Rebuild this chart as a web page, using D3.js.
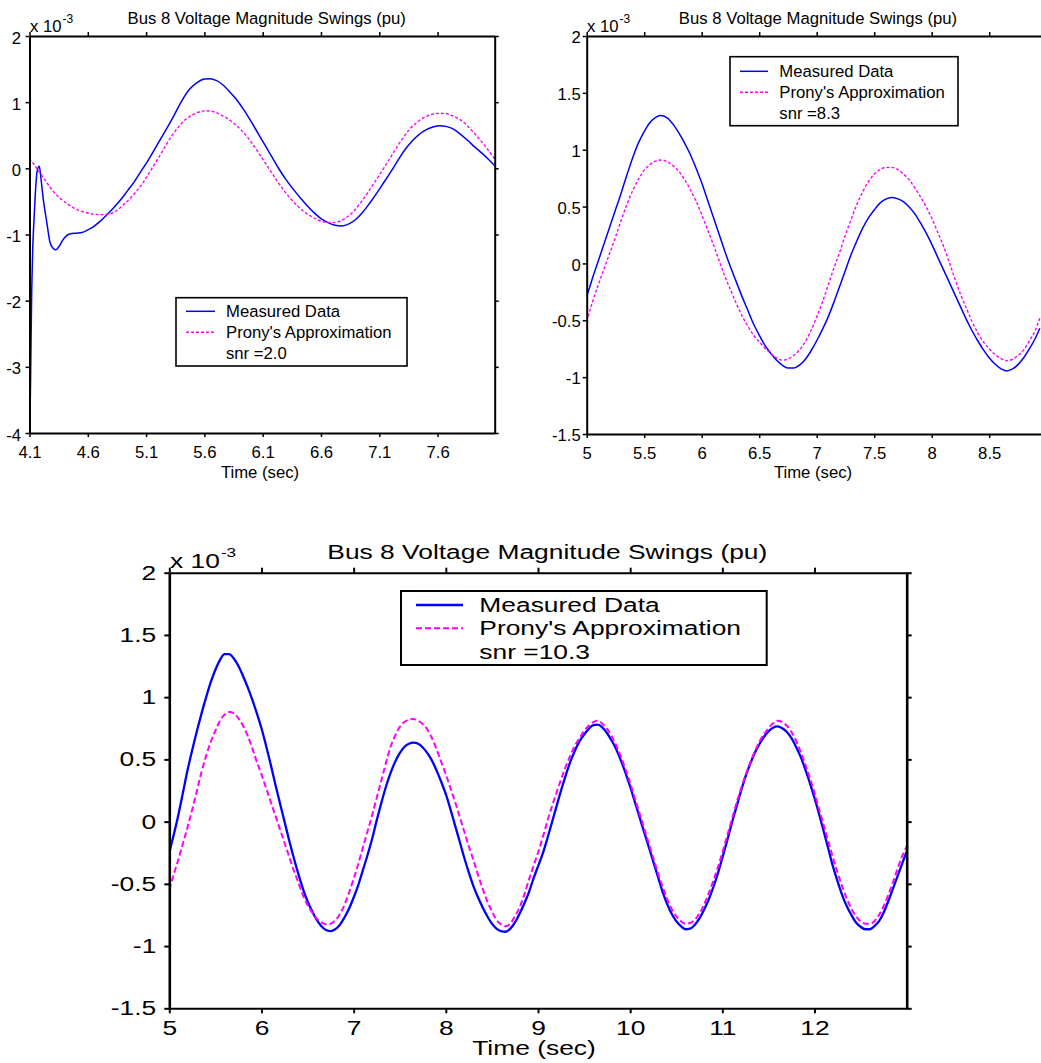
<!DOCTYPE html>
<html>
<head>
<meta charset="utf-8">
<script src="https://cdn.jsdelivr.net/npm/d3@7"></script>
<style>
  body { margin: 0; background: #fff; }
  svg { display: block; font-family: "Liberation Sans", Arial, Helvetica, sans-serif; }
</style>
</head>
<body>
<div id="chart"></div>
<script>
/* Bus 8 voltage swings: measured data vs Prony fit, three panels */

// ---- data (values in units of 1e-3 pu) ----
const tlMeasured = [
  [4.100,-4.0],[4.105,-3.7],[4.110,-3.1],[4.119,-1.85],[4.127,-1.25],[4.135,-0.90],[4.150,-0.38],
  [4.165,-0.05],[4.184,0.03],[4.200,-0.18],[4.219,-0.48],[4.247,-0.80],[4.276,-1.12],[4.304,-1.21],
  [4.325,-1.23],[4.350,-1.19],[4.380,-1.10],[4.410,-1.03],[4.450,-0.99],[4.500,-0.98],[4.550,-0.97],
  [4.600,-0.93],[4.650,-0.88],[4.700,-0.81],[4.760,-0.71],[4.820,-0.60],[4.880,-0.48],[4.940,-0.34],
  [5.000,-0.20],[5.050,-0.06],[5.100,0.07],[5.160,0.25],[5.220,0.43],[5.280,0.61],[5.340,0.80],
  [5.400,1.00],[5.470,1.19],[5.540,1.30],[5.600,1.35],[5.650,1.355],[5.700,1.33],[5.760,1.26],
  [5.820,1.15],[5.880,1.03],[5.940,0.88],[6.000,0.71],[6.060,0.53],[6.120,0.35],[6.180,0.17],
  [6.240,-0.01],[6.300,-0.17],[6.360,-0.31],[6.420,-0.44],[6.480,-0.56],[6.540,-0.67],[6.600,-0.76],
  [6.660,-0.82],[6.720,-0.86],[6.780,-0.87],[6.840,-0.84],[6.900,-0.77],[6.960,-0.66],[7.020,-0.52],
  [7.080,-0.37],[7.140,-0.21],[7.200,-0.05],[7.260,0.12],[7.320,0.28],[7.380,0.41],[7.440,0.51],
  [7.500,0.58],[7.560,0.625],[7.620,0.645],[7.680,0.63],[7.740,0.59],[7.800,0.51],[7.860,0.42],
  [7.920,0.32],[7.980,0.23],[8.040,0.13],[8.090,0.04]
];
const tlProny = [
  [4.10,0.15],[4.15,0.03],[4.19,-0.07],[4.25,-0.22],[4.30,-0.34],[4.36,-0.45],[4.42,-0.53],[4.48,-0.60],
  [4.54,-0.645],[4.60,-0.675],[4.66,-0.695],[4.72,-0.70],[4.78,-0.69],[4.84,-0.65],[4.90,-0.56],
  [4.96,-0.46],[5.02,-0.34],[5.08,-0.20],[5.14,-0.03],[5.20,0.14],[5.26,0.32],[5.32,0.49],[5.38,0.63],
  [5.44,0.74],[5.50,0.81],[5.56,0.855],[5.62,0.87],[5.68,0.855],[5.74,0.81],[5.80,0.75],[5.86,0.67],
  [5.92,0.57],[5.98,0.45],[6.04,0.30],[6.10,0.14],[6.16,-0.02],[6.22,-0.18],[6.28,-0.33],[6.34,-0.46],
  [6.40,-0.57],[6.46,-0.66],[6.52,-0.73],[6.58,-0.785],[6.64,-0.815],[6.70,-0.82],[6.76,-0.80],
  [6.82,-0.74],[6.88,-0.65],[6.94,-0.52],[7.00,-0.37],[7.06,-0.21],[7.12,-0.05],[7.18,0.12],[7.24,0.29],
  [7.30,0.45],[7.36,0.59],[7.42,0.69],[7.48,0.765],[7.54,0.81],[7.60,0.83],[7.66,0.83],[7.72,0.80],
  [7.78,0.75],[7.84,0.67],[7.90,0.56],[7.96,0.44],[8.02,0.31],[8.09,0.14]
];
const trMeasured = [
  [5.00,-0.29],[5.05,-0.13],[5.10,0.02],[5.15,0.17],[5.20,0.32],[5.25,0.47],[5.30,0.62],[5.35,0.78],
  [5.40,0.93],[5.45,1.06],[5.50,1.16],[5.55,1.24],[5.60,1.285],[5.64,1.30],[5.70,1.28],[5.75,1.225],
  [5.80,1.15],[5.85,1.06],[5.90,0.96],[5.95,0.84],[6.00,0.71],[6.05,0.56],[6.10,0.41],[6.15,0.26],
  [6.20,0.11],[6.25,-0.03],[6.30,-0.16],[6.35,-0.29],[6.40,-0.41],[6.45,-0.53],[6.50,-0.63],[6.55,-0.72],
  [6.60,-0.79],[6.65,-0.85],[6.70,-0.895],[6.75,-0.92],[6.80,-0.92],[6.85,-0.895],[6.90,-0.845],[6.95,-0.77],
  [7.00,-0.68],[7.05,-0.58],[7.10,-0.47],[7.15,-0.34],[7.20,-0.20],[7.25,-0.06],[7.30,0.08],[7.35,0.20],
  [7.40,0.31],[7.45,0.40],[7.50,0.47],[7.55,0.53],[7.60,0.565],[7.65,0.58],[7.70,0.57],[7.75,0.545],
  [7.80,0.50],[7.85,0.44],[7.90,0.36],[7.95,0.27],[8.00,0.17],[8.05,0.06],[8.10,-0.05],[8.15,-0.16],
  [8.20,-0.27],[8.25,-0.38],[8.30,-0.49],[8.35,-0.59],[8.40,-0.68],[8.45,-0.76],[8.50,-0.83],[8.55,-0.885],
  [8.60,-0.925],[8.65,-0.945],[8.70,-0.93],[8.75,-0.89],[8.80,-0.83],[8.85,-0.75],[8.90,-0.66],[8.94,-0.57]
];
const trProny = [
  [5.00,-0.51],[5.05,-0.34],[5.10,-0.19],[5.15,-0.05],[5.20,0.09],[5.25,0.23],[5.30,0.38],[5.35,0.52],
  [5.40,0.64],[5.45,0.74],[5.50,0.82],[5.55,0.87],[5.60,0.90],[5.65,0.91],[5.70,0.895],[5.75,0.86],
  [5.80,0.81],[5.85,0.74],[5.90,0.65],[5.95,0.55],[6.00,0.43],[6.05,0.30],[6.10,0.17],[6.15,0.03],
  [6.20,-0.11],[6.25,-0.23],[6.30,-0.35],[6.35,-0.46],[6.40,-0.55],[6.45,-0.63],[6.50,-0.69],[6.55,-0.745],
  [6.60,-0.79],[6.65,-0.83],[6.70,-0.85],[6.75,-0.84],[6.80,-0.81],[6.85,-0.76],[6.90,-0.69],[6.95,-0.59],
  [7.00,-0.47],[7.05,-0.34],[7.10,-0.19],[7.15,-0.04],[7.20,0.10],[7.25,0.25],[7.30,0.39],[7.35,0.52],
  [7.40,0.63],[7.45,0.72],[7.50,0.785],[7.55,0.825],[7.60,0.845],[7.65,0.845],[7.70,0.83],[7.75,0.79],
  [7.80,0.74],[7.85,0.67],[7.90,0.59],[7.95,0.50],[8.00,0.40],[8.05,0.28],[8.10,0.16],[8.15,0.02],
  [8.20,-0.13],[8.25,-0.27],[8.30,-0.39],[8.35,-0.51],[8.40,-0.61],[8.45,-0.69],[8.50,-0.75],[8.55,-0.80],
  [8.60,-0.835],[8.65,-0.855],[8.70,-0.845],[8.75,-0.81],[8.80,-0.76],[8.85,-0.68],[8.90,-0.59],[8.94,-0.48]
];
const bMeasured = [
  [5.00,-0.25],[5.05,-0.10],[5.10,0.06],[5.15,0.24],[5.20,0.42],[5.25,0.58],[5.30,0.73],[5.35,0.87],
  [5.40,1.00],[5.45,1.12],[5.50,1.22],[5.55,1.30],[5.60,1.345],[5.65,1.345],[5.70,1.31],[5.75,1.25],
  [5.80,1.17],[5.85,1.08],[5.90,0.98],[5.95,0.87],[6.00,0.75],[6.05,0.61],[6.10,0.46],[6.15,0.30],
  [6.20,0.15],[6.25,0.00],[6.30,-0.15],[6.35,-0.29],[6.40,-0.42],[6.45,-0.54],[6.50,-0.64],[6.55,-0.72],
  [6.60,-0.79],[6.65,-0.84],[6.70,-0.87],[6.75,-0.88],[6.80,-0.865],[6.85,-0.83],[6.90,-0.77],[6.95,-0.70],
  [7.00,-0.61],[7.05,-0.51],[7.10,-0.39],[7.15,-0.27],[7.20,-0.14],[7.25,0.01],[7.30,0.15],[7.35,0.28],
  [7.40,0.39],[7.45,0.48],[7.50,0.55],[7.55,0.60],[7.60,0.625],[7.65,0.635],[7.70,0.625],[7.75,0.595],
  [7.80,0.55],[7.85,0.49],[7.90,0.41],[7.95,0.32],[8.00,0.22],[8.05,0.10],[8.10,-0.03],[8.15,-0.16],
  [8.20,-0.29],[8.25,-0.41],[8.30,-0.52],[8.35,-0.61],[8.40,-0.69],[8.45,-0.76],[8.50,-0.82],[8.55,-0.86],
  [8.60,-0.88],[8.65,-0.885],[8.70,-0.86],[8.75,-0.81],[8.80,-0.74],[8.85,-0.66],[8.90,-0.57],[8.95,-0.46],
  [9.00,-0.36],[9.05,-0.26],[9.10,-0.14],[9.15,-0.01],[9.20,0.12],[9.25,0.25],[9.30,0.37],[9.35,0.48],
  [9.40,0.57],[9.45,0.645],[9.50,0.70],[9.55,0.745],[9.60,0.775],[9.65,0.78],[9.70,0.755],[9.75,0.71],
  [9.80,0.65],[9.85,0.58],[9.90,0.49],[9.95,0.39],[10.00,0.28],[10.05,0.16],[10.10,0.04],[10.15,-0.08],
  [10.20,-0.20],[10.25,-0.32],[10.30,-0.44],[10.35,-0.56],[10.40,-0.66],[10.45,-0.74],[10.50,-0.80],[10.55,-0.84],
  [10.60,-0.865],[10.65,-0.86],[10.70,-0.83],[10.75,-0.78],[10.80,-0.71],[10.85,-0.63],[10.90,-0.53],[10.95,-0.42],
  [11.00,-0.29],[11.05,-0.16],[11.10,-0.02],[11.15,0.11],[11.20,0.24],[11.25,0.36],[11.30,0.46],[11.35,0.55],
  [11.40,0.62],[11.45,0.68],[11.50,0.725],[11.55,0.755],[11.60,0.765],[11.65,0.75],[11.70,0.72],[11.75,0.67],
  [11.80,0.60],[11.85,0.52],[11.90,0.42],[11.95,0.31],[12.00,0.19],[12.05,0.06],[12.10,-0.08],[12.15,-0.22],
  [12.20,-0.36],[12.25,-0.48],[12.30,-0.59],[12.35,-0.68],[12.40,-0.75],[12.45,-0.81],[12.50,-0.845],[12.55,-0.865],
  [12.60,-0.865],[12.65,-0.84],[12.70,-0.80],[12.75,-0.73],[12.80,-0.64],[12.85,-0.54],[12.90,-0.44],[12.95,-0.34],
  [13.00,-0.24]
];
const bProny = [
  [5.00,-0.55],[5.05,-0.42],[5.10,-0.30],[5.15,-0.17],[5.20,-0.04],[5.25,0.10],[5.30,0.25],[5.35,0.40],
  [5.40,0.53],[5.45,0.64],[5.50,0.73],[5.55,0.81],[5.60,0.86],[5.65,0.88],[5.70,0.87],[5.75,0.83],
  [5.80,0.77],[5.85,0.69],[5.90,0.59],[5.95,0.48],[6.00,0.38],[6.05,0.27],[6.10,0.16],[6.15,0.05],
  [6.20,-0.06],[6.25,-0.17],[6.30,-0.28],[6.35,-0.39],[6.40,-0.49],[6.45,-0.59],[6.50,-0.67],[6.55,-0.73],
  [6.60,-0.78],[6.65,-0.81],[6.70,-0.825],[6.75,-0.82],[6.80,-0.795],[6.85,-0.745],[6.90,-0.67],[6.95,-0.57],
  [7.00,-0.46],[7.05,-0.34],[7.10,-0.21],[7.15,-0.08],[7.20,0.05],[7.25,0.19],[7.30,0.33],[7.35,0.47],
  [7.40,0.60],[7.45,0.69],[7.50,0.76],[7.55,0.80],[7.60,0.82],[7.65,0.825],[7.70,0.81],[7.75,0.785],
  [7.80,0.74],[7.85,0.67],[7.90,0.58],[7.95,0.48],[8.00,0.38],[8.05,0.27],[8.10,0.16],[8.15,0.04],
  [8.20,-0.08],[8.25,-0.20],[8.30,-0.31],[8.35,-0.43],[8.40,-0.54],[8.45,-0.64],[8.50,-0.72],[8.55,-0.79],
  [8.60,-0.825],[8.65,-0.84],[8.70,-0.82],[8.75,-0.76],[8.80,-0.69],[8.85,-0.59],[8.90,-0.47],[8.95,-0.36],
  [9.00,-0.25],[9.05,-0.13],[9.10,0.00],[9.15,0.12],[9.20,0.23],[9.25,0.34],[9.30,0.44],[9.35,0.53],
  [9.40,0.61],[9.45,0.67],[9.50,0.73],[9.55,0.77],[9.60,0.80],[9.65,0.81],[9.70,0.785],[9.75,0.745],
  [9.80,0.685],[9.85,0.61],[9.90,0.52],[9.95,0.42],[10.00,0.31],[10.05,0.19],[10.10,0.07],[10.15,-0.05],
  [10.20,-0.17],[10.25,-0.29],[10.30,-0.41],[10.35,-0.52],[10.40,-0.62],[10.45,-0.70],[10.50,-0.76],[10.55,-0.80],
  [10.60,-0.82],[10.65,-0.815],[10.70,-0.79],[10.75,-0.74],[10.80,-0.67],[10.85,-0.58],[10.90,-0.48],[10.95,-0.37],
  [11.00,-0.25],[11.05,-0.12],[11.10,0.01],[11.15,0.14],[11.20,0.26],[11.25,0.37],[11.30,0.47],[11.35,0.56],
  [11.40,0.64],[11.45,0.70],[11.50,0.75],[11.55,0.79],[11.60,0.81],[11.65,0.80],[11.70,0.77],[11.75,0.72],
  [11.80,0.65],[11.85,0.56],[11.90,0.46],[11.95,0.35],[12.00,0.23],[12.05,0.10],[12.10,-0.03],[12.15,-0.16],
  [12.20,-0.29],[12.25,-0.41],[12.30,-0.52],[12.35,-0.62],[12.40,-0.70],[12.45,-0.76],[12.50,-0.80],[12.55,-0.82],
  [12.60,-0.82],[12.65,-0.80],[12.70,-0.75],[12.75,-0.68],[12.80,-0.59],[12.85,-0.49],[12.90,-0.38],[12.95,-0.28],
  [13.00,-0.20]
];

// ticks and labels
const tlXTicks = [4.1, 4.6, 5.1, 5.6, 6.1, 6.6, 7.1, 7.6];
const tlYTicks = [-4, -3, -2, -1, 0, 1, 2];
const trXTicks = [5, 5.5, 6, 6.5, 7, 7.5, 8, 8.5];
const halfYTicks = [-1.5, -1, -0.5, 0, 0.5, 1, 1.5, 2];
const bXTicks = [5, 6, 7, 8, 9, 10, 11, 12];
const titleText = "Bus 8 Voltage Magnitude Swings (pu)";
const xLabelText = "Time (sec)";
const legendLabels = ["Measured Data", "Prony's Approximation"];
const snrLabels = ["snr =2.0", "snr =8.3", "snr =10.3"];

const width = 1041, height = 1063;
const svg = d3.select("#chart").append("svg")
    .attr("width", width)
    .attr("height", height);

// text that may be stretched sideways (the lower plot is squashed in the original)
function label(g, x, y, s, fs, sx, anchor) {
  return g.append("text")
    .attr("transform", `translate(${x},${y}) scale(${sx},1)`)
    .attr("text-anchor", anchor || "start")
    .attr("font-size", fs)
    .attr("fill", "#000")
    .text(s);
}

function drawPanel(c, measured, prony, snr) {
  const g = svg.append("g");
  const x = d3.scaleLinear().domain(c.xDomain).range([c.left, c.right]);
  const y = d3.scaleLinear().domain(c.yDomain).range([c.bottom, c.top]);
  const fmt = d => String(d);

  g.append("clipPath").attr("id", "clip-" + c.id)
    .append("rect")
    .attr("x", c.left).attr("y", c.top - 3)
    .attr("width", c.right - c.left).attr("height", c.bottom - c.top + 6);

  const line = d3.line()
      .x(d => x(d[0]))
      .y(d => y(d[1]))
      .curve(d3.curveMonotoneX);

  g.append("path")
    .datum(measured)
    .attr("clip-path", `url(#clip-${c.id})`)
    .attr("d", line)
    .attr("fill", "none")
    .attr("stroke", "#0000ff")
    .attr("stroke-width", c.measW);

  g.append("path")
    .datum(prony)
    .attr("clip-path", `url(#clip-${c.id})`)
    .attr("d", line)
    .attr("fill", "none")
    .attr("stroke", "#ff00ff")
    .attr("stroke-width", c.pronyW)
    .attr("stroke-dasharray", c.dash);

  // axes, ticks point outward on every side
  const xb = g.append("g").attr("transform", `translate(0,${c.bottom})`)
    .call(d3.axisBottom(x).tickValues(c.xTicks).tickSize(c.tick).tickSizeOuter(0).tickFormat(fmt));
  const xt = g.append("g").attr("transform", `translate(0,${c.top})`)
    .call(d3.axisTop(x).tickValues(c.xTicks).tickSize(c.tick).tickSizeOuter(0).tickFormat(""));
  const yl = g.append("g").attr("transform", `translate(${c.left},0)`)
    .call(d3.axisLeft(y).tickValues(c.yTicks).tickSize(c.tick).tickSizeOuter(0).tickFormat(fmt));
  const axes = [xb, xt, yl];
  if (c.rightAxis) {
    axes.push(g.append("g").attr("transform", `translate(${c.right},0)`)
      .call(d3.axisRight(y).tickValues(c.yTicks).tickSize(c.tick).tickSizeOuter(0).tickFormat("")));
  }
  axes.forEach((a, i) => {
    a.attr("font-family", null).attr("font-size", null);
    a.select(".domain").attr("stroke", "#000").attr("stroke-width", i < 2 ? c.frameH : c.frameV);
    a.selectAll(".tick line").attr("stroke", "#000").attr("stroke-width", c.tickW);
  });

  xb.selectAll("text")
    .attr("y", null).attr("dy", null)
    .attr("fill", "#000")
    .attr("font-size", c.fs)
    .attr("transform", `translate(0,${c.xLabOff}) scale(${c.sx},1)`);
  yl.selectAll("text")
    .attr("x", null).attr("dy", c.yDy)
    .attr("fill", "#000")
    .attr("font-size", c.fs)
    .attr("transform", `translate(${-c.yGap},0) scale(${c.sx},1)`);

  // title, x label, exponent
  label(g, c.titleX, c.titleY, titleText, c.fs, c.sx, "middle");
  label(g, c.xLabX, c.xLabY, xLabelText, c.fs, c.sx, "middle");
  const ex = label(g, c.expX, c.expY, "x 10", c.fs, c.sx);
  const exW = ex.node().getComputedTextLength() * c.sx;
  label(g, c.expX + exW + 1, c.supY, "-3", c.supFs, c.sx);

  // legend
  const L = c.legend;
  const lg = g.append("g");
  lg.append("rect")
    .attr("x", L.x0).attr("y", L.y0)
    .attr("width", L.x1 - L.x0).attr("height", L.y1 - L.y0)
    .attr("fill", "#fff").attr("stroke", "#000").attr("stroke-width", L.sw);
  const styles = [
    { color: "#0000ff", w: c.measW, dash: null },
    { color: "#ff00ff", w: c.pronyW, dash: c.dash }
  ];
  legendLabels.forEach((s, i) => {
    lg.append("line")
      .attr("x1", L.lx0).attr("x2", L.lx1)
      .attr("y1", L.base[i] - L.lineOff).attr("y2", L.base[i] - L.lineOff)
      .attr("stroke", styles[i].color)
      .attr("stroke-width", styles[i].w)
      .attr("stroke-dasharray", styles[i].dash);
    label(lg, L.tx, L.base[i], s, c.fs, c.sx);
  });
  label(lg, L.tx, L.base[2], snr, c.fs, c.sx);
}

drawPanel({
  id: "tl", left: 29.5, right: 494.7, top: 36, bottom: 433,
  xDomain: [4.1, 8.09], yDomain: [-4, 2], xTicks: tlXTicks, yTicks: tlYTicks,
  fs: 16.7, sx: 1, tick: 4, tickW: 1.5, frameH: 2, frameV: 2, rightAxis: true,
  xLabOff: 25, yGap: 8.5, yDy: "0.42em",
  titleX: 266.7, titleY: 24, xLabX: 260, xLabY: 478,
  expX: 30, expY: 31.7, supY: 22.5, supFs: 12,
  measW: 1.5, pronyW: 1.4, dash: "3,2",
  legend: { x0: 176, x1: 407, y0: 297.7, y1: 366, lx0: 186, lx1: 215, tx: 226,
            base: [317.3, 338.3, 359.3], lineOff: 6, sw: 1.6 }
}, tlMeasured, tlProny, snrLabels[0]);

drawPanel({
  id: "tr", left: 586.7, right: 1042.1, top: 36, bottom: 434,
  xDomain: [5, 8.96], yDomain: [-1.5, 2], xTicks: trXTicks, yTicks: halfYTicks,
  fs: 16.7, sx: 1, tick: 4, tickW: 1.5, frameH: 2, frameV: 2, rightAxis: false,
  xLabOff: 24.5, yGap: 6, yDy: "0.4em",
  titleX: 818, titleY: 24, xLabX: 813, xLabY: 478,
  expX: 587, expY: 31.7, supY: 22.5, supFs: 12,
  measW: 1.5, pronyW: 1.4, dash: "3,2",
  legend: { x0: 730, x1: 958, y0: 56.7, y1: 125.7, lx0: 740, lx1: 768, tx: 779.3,
            base: [77.3, 98.3, 119.3], lineOff: 6, sw: 1.6 }
}, trMeasured, trProny, snrLabels[1]);

drawPanel({
  id: "b", left: 169.3, right: 906.7, top: 572.7, bottom: 1008.3,
  xDomain: [5, 13], yDomain: [-1.5, 2], xTicks: bXTicks, yTicks: halfYTicks,
  fs: 20, sx: 1.32, tick: 5, tickW: 2, frameH: 2, frameV: 2.6, rightAxis: true,
  xLabOff: 26.7, yGap: 13, yDy: "0.33em",
  titleX: 547.3, titleY: 559.3, xLabX: 534, xLabY: 1055,
  expX: 170, expY: 568.3, supY: 557, supFs: 13,
  measW: 2.3, pronyW: 2, dash: "6,3",
  legend: { x0: 401, x1: 766.7, y0: 591, y1: 665, lx0: 416, lx1: 463, tx: 479.3,
            base: [611.7, 635, 659.3], lineOff: 6.7, sw: 2 }
}, bMeasured, bProny, snrLabels[2]);
</script>
</body>
</html>
